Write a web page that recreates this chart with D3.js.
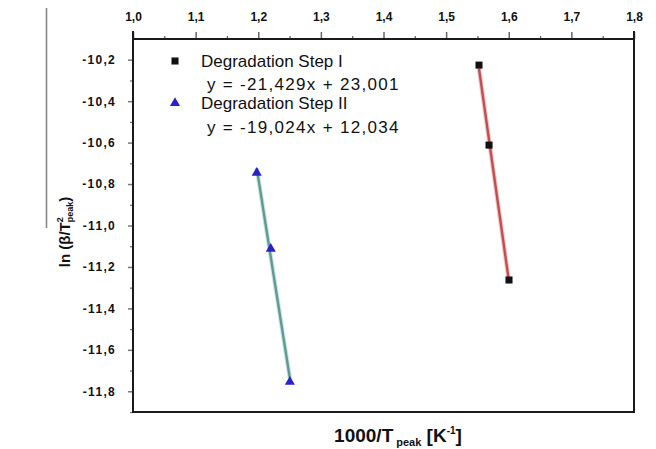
<!DOCTYPE html>
<html>
<head>
<meta charset="utf-8">
<script src="https://cdn.jsdelivr.net/npm/d3@7"></script>
<style>
  html, body { margin: 0; padding: 0; background: #fff; }
  svg { display: block; font-family: "Liberation Sans", Arial, sans-serif; }
</style>
</head>
<body>
<svg id="chart" width="656" height="449"></svg>
<script>
// ---- data ----
const step1X = [1.5525, 1.5685, 1.6004];
const step1Y = [-10.226, -10.612, -11.263];
const step2X = [1.1976, 1.2200, 1.2505];
const step2Y = [-10.746, -11.113, -11.754];
const seriesNames = ["Degradation Step I", "Degradation Step II"];
const equations = ["y = -21,429x + 23,001", "y = -19,024x + 12,034"];
const xTicks = [1.0, 1.1, 1.2, 1.3, 1.4, 1.5, 1.6, 1.7, 1.8];
const yTicks = [-10.2, -10.4, -10.6, -10.8, -11.0, -11.2, -11.4, -11.6, -11.8];

const svg = d3.select("#chart");
const L = 133, T = 39, R = 634, B = 412;
const x = d3.scaleLinear().domain([1.0, 1.8]).range([L, R]);
const y = d3.scaleLinear().domain([-11.9, -10.1]).range([B, T]);
const fmt = d => d.toFixed(1).replace(".", ",");

// stray gray frame line from source figure
svg.append("line").attr("x1", 46.5).attr("x2", 46.5).attr("y1", 8).attr("y2", 228)
  .attr("stroke", "#8a8a8a").attr("stroke-width", 1.6);

// minor ticks
const xMinor = d3.range(1.05, 1.8, 0.1);
const yMinor = d3.range(-10.3, -11.95, -0.2);
svg.append("g").attr("transform", `translate(0,${T})`)
  .call(d3.axisTop(x).tickValues(xMinor).tickSize(3).tickFormat(""))
  .call(g => g.select(".domain").remove())
  .call(g => g.selectAll("line").attr("stroke", "#666").attr("stroke-width", 1.3));
svg.append("g").attr("transform", `translate(${L},0)`)
  .call(d3.axisLeft(y).tickValues(yMinor).tickSize(3).tickFormat(""))
  .call(g => g.select(".domain").remove())
  .call(g => g.selectAll("line").attr("stroke", "#777").attr("stroke-width", 1.3));

// major ticks
svg.append("g").attr("transform", `translate(0,${T})`)
  .call(d3.axisTop(x).tickValues(xTicks).tickSize(7).tickPadding(11).tickFormat(fmt))
  .call(g => g.select(".domain").remove())
  .call(g => g.selectAll("line").attr("stroke", "#666").attr("stroke-width", 1.5))
  .call(g => g.selectAll("text").attr("font-size", 12).attr("font-weight", "bold")
    .attr("fill", "#111").attr("font-family", "Liberation Sans, Arial, sans-serif"));
svg.append("g").attr("transform", `translate(${L},0)`)
  .call(d3.axisLeft(y).tickValues(yTicks).tickSize(5).tickPadding(12).tickFormat(fmt))
  .call(g => g.select(".domain").remove())
  .call(g => g.selectAll("line").attr("stroke", "#777").attr("stroke-width", 1.5))
  .call(g => g.selectAll("text").attr("font-size", 12).attr("font-weight", "bold")
    .attr("letter-spacing", 1.3).attr("fill", "#111")
    .attr("font-family", "Liberation Sans, Arial, sans-serif"));

// frame
svg.append("rect").attr("x", L).attr("y", T).attr("width", R - L).attr("height", B - T)
  .attr("fill", "none").attr("stroke", "#1a1a1a").attr("stroke-width", 2);
svg.append("line").attr("x1", L).attr("x2", L).attr("y1", T - 8).attr("y2", B)
  .attr("stroke", "#1a1a1a").attr("stroke-width", 2);
svg.append("line").attr("x1", R).attr("x2", R).attr("y1", T - 8).attr("y2", B)
  .attr("stroke", "#1a1a1a").attr("stroke-width", 2);

// fit lines (least squares through points)
function fit(xs, ys) {
  const mx = d3.mean(xs), my = d3.mean(ys);
  const b = d3.sum(xs.map((v, i) => (v - mx) * (ys[i] - my))) / d3.sum(xs.map(v => (v - mx) ** 2));
  const a = my - b * mx;
  const x0 = d3.min(xs), x1 = d3.max(xs);
  return [[x0, a + b * x0], [x1, a + b * x1]];
}
const line = d3.line().x(d => x(d[0])).y(d => y(d[1]));
const series = [
  { xs: step1X, ys: step1Y, color: "#c0504f", halo: "#f0c8c8", sym: d3.symbolSquare, size: 50, fill: "#111" },
  { xs: step2X, ys: step2Y, color: "#5e9b93", halo: "#cfe5e2", sym: d3.symbolTriangle, size: 44, fill: "#2a22c8" }
];
series.forEach(s => {
  const seg = fit(s.xs, s.ys);
  svg.append("path").attr("d", line(seg)).attr("stroke", s.halo).attr("stroke-width", 4.5).attr("fill", "none");
  svg.append("path").attr("d", line(seg)).attr("stroke", s.color).attr("stroke-width", 2.4).attr("fill", "none");
  svg.append("g").selectAll("path").data(s.xs.map((v, i) => [v, s.ys[i]])).join("path")
    .attr("transform", d => `translate(${x(d[0])},${y(d[1])})`)
    .attr("d", d3.symbol().type(s.sym).size(s.size))
    .attr("fill", s.fill);
});

// legend
const leg = svg.append("g").attr("font-size", 17).attr("fill", "#111");
const rowY = [61, 103];
const eqY = [84, 127];
series.forEach((s, i) => {
  leg.append("path").attr("transform", `translate(175,${rowY[i]})`)
    .attr("d", d3.symbol().type(s.sym).size(s.size)).attr("fill", s.fill);
  leg.append("text").attr("x", 201).attr("y", rowY[i]).attr("dy", "0.35em").text(seriesNames[i]);
  leg.append("text").attr("x", 207).attr("y", eqY[i]).attr("dy", "0.35em")
    .attr("letter-spacing", 1.3).text(equations[i]);
});

// x title
const xt = svg.append("text").attr("x", 398).attr("y", 442).attr("text-anchor", "middle")
  .attr("font-weight", "bold").attr("font-size", 19).attr("fill", "#111");
xt.append("tspan").text("1000/T");
xt.append("tspan").attr("font-size", 11).attr("dy", 4).attr("dx", 3).text("peak");
xt.append("tspan").attr("dy", -4).text(" [K");
xt.append("tspan").attr("font-size", 10).attr("dy", -8).text("-1");
xt.append("tspan").attr("dy", 8).text("]");

// y title
const yt = svg.append("text").attr("transform", "translate(70,232) rotate(-90)")
  .attr("text-anchor", "middle").attr("font-weight", "bold").attr("font-size", 15).attr("fill", "#111");
yt.append("tspan").text("ln (β/T");
yt.append("tspan").attr("font-size", 9).attr("dy", -7).text("2");
yt.append("tspan").attr("font-size", 9).attr("dy", 10).attr("dx", -5).text("peak");
yt.append("tspan").attr("dy", -3).text(")");
</script>
</body>
</html>
